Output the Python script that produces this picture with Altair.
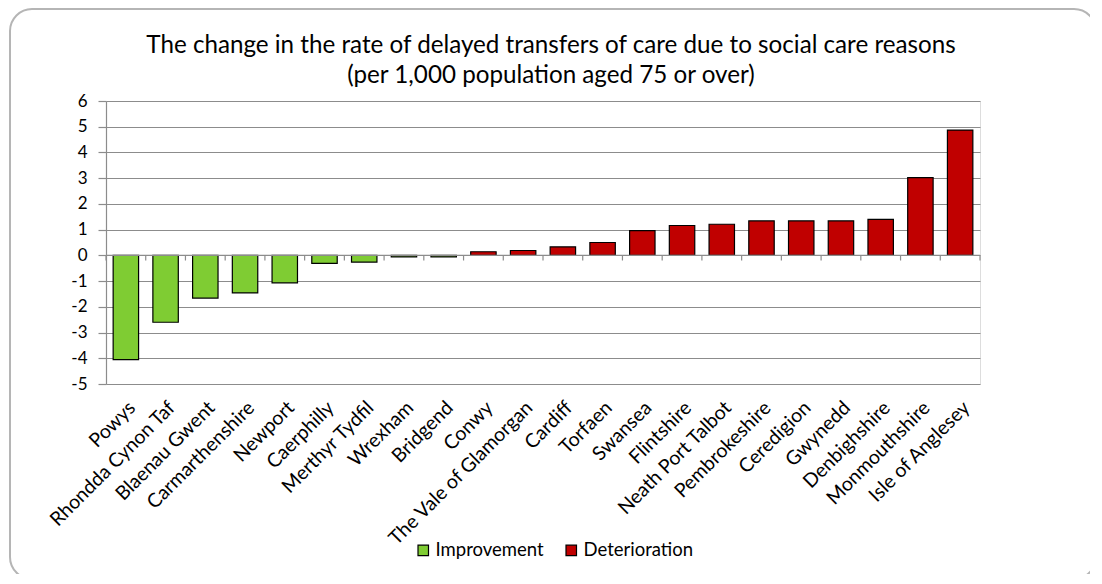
import altair as alt
import pandas as pd

areas = ["Powys", "Rhondda Cynon Taf", "Blaenau Gwent", "Carmarthenshire", "Newport",
         "Caerphilly", "Merthyr Tydfil", "Wrexham", "Bridgend", "Conwy",
         "The Vale of Glamorgan", "Cardiff", "Torfaen", "Swansea", "Flintshire",
         "Neath Port Talbot", "Pembrokeshire", "Ceredigion", "Gwynedd", "Denbighshire",
         "Monmouthshire", "Isle of Anglesey"]
changes = [-4.05, -2.6, -1.66, -1.46, -1.07, -0.31, -0.26, -0.06, -0.06, 0.14,
           0.19, 0.33, 0.5, 0.96, 1.16, 1.21, 1.34, 1.34, 1.34, 1.4, 3.02, 4.87]
status_labels = ["Improvement", "Deterioration"]
status_colors = ["#7FCC33", "#C00000"]
y_ticks = [-5, -4, -3, -2, -1, 0, 1, 2, 3, 4, 5, 6]
title_line1 = "The change in the rate of delayed transfers of care due to social care reasons"
title_line2 = "(per 1,000 population  aged 75 or over)"

df = pd.DataFrame({
    "area": areas,
    "change": changes,
    "status": [status_labels[0] if v < 0 else status_labels[1] for v in changes],
})
edges = pd.DataFrame({"area": areas + [areas[-1]],
                      "y0": [0] * (len(areas) + 1), "y1": [-0.2] * (len(areas) + 1)})

FONT = "Lato"
W, H = 874, 283
GRID = "#8c8c8c"

xscale = alt.Scale(domain=areas, paddingInner=0, paddingOuter=0)
yscale = alt.Scale(domain=[-5, 6], nice=False)

xaxis = alt.Axis(title=None, labelAngle=-45, ticks=False, domain=False,
                 labelFontSize=19.5, labelFont=FONT, labelColor="black",
                 labelPadding=14, labelAlign="right",
                 labelLimit=400, labelOverlap=False)
yaxis = alt.Axis(title=None, values=y_ticks, grid=True, gridColor=GRID,
                 gridWidth=1.2, domainColor=GRID, domainWidth=1.2,
                 tickColor=GRID, tickSize=8, tickWidth=1.2,
                 labelFontSize=17, labelFont=FONT, labelColor="black",
                 labelPadding=11, labelOverlap=False, labelFlush=False,
                 labelExpr="replace(format(datum.value, 'd'), '\u2212', '-')")

bars = alt.Chart(df).mark_bar(
    width=alt.RelativeBandSize(0.64), stroke="black", strokeWidth=1.2
).encode(
    x=alt.X("area:N", sort=areas, scale=xscale, axis=xaxis),
    y=alt.Y("change:Q", scale=yscale, axis=yaxis),
    color=alt.Color("status:N", scale=alt.Scale(domain=status_labels, range=status_colors),
                    legend=alt.Legend(title=None, orient="none", direction="horizontal",
                                      legendX=308, legendY=440, symbolType="square",
                                      symbolSize=110, symbolStrokeColor="black",
                                      symbolStrokeWidth=1.2, labelFontSize=18.5,
                                      labelFont=FONT, labelColor="black", labelOffset=3,
                                      columnPadding=18, symbolOpacity=1)),
)

zero = alt.Chart(pd.DataFrame({"y": [0]})).mark_rule(color=GRID, strokeWidth=1.2).encode(
    y=alt.Y("y:Q", scale=yscale, axis=yaxis), x=alt.value(0), x2=alt.value(W))

ticks_a = alt.Chart(edges.iloc[:-1]).mark_rule(color=GRID, strokeWidth=1.2).encode(
    x=alt.X("area:N", sort=areas, scale=xscale, bandPosition=0, axis=xaxis),
    y=alt.Y("y0:Q", scale=yscale, axis=yaxis), y2="y1:Q")
ticks_b = alt.Chart(edges.iloc[-1:]).mark_rule(color=GRID, strokeWidth=1.2).encode(
    x=alt.X("area:N", sort=areas, scale=xscale, bandPosition=1, axis=xaxis),
    y=alt.Y("y0:Q", scale=yscale, axis=yaxis), y2="y1:Q")

frame = alt.Chart(pd.DataFrame({"a": [0]})).mark_rect(
    fill="white", fillOpacity=0, stroke="#b5b5b5", strokeWidth=2, cornerRadius=22
).encode(x=alt.value(-96), x2=alt.value(990), y=alt.value(-92), y2=alt.value(478))

t1 = alt.Chart(pd.DataFrame({"t": [title_line1]})).mark_text(
    font=FONT, fontSize=24.2, color="black", align="center", baseline="alphabetic"
).encode(text="t:N", x=alt.value(W / 2 + 8), y=alt.value(-48))
t2 = alt.Chart(pd.DataFrame({"t": [title_line2]})).mark_text(
    font=FONT, fontSize=24.2, color="black", align="center", baseline="alphabetic"
).encode(text="t:N", x=alt.value(W / 2 + 8), y=alt.value(-18))

chart = alt.layer(frame, bars, zero, ticks_a, ticks_b, t1, t2).properties(
    width=W, height=H,
    autosize=alt.AutoSizeParams(type="none"),
    padding={"left": 98, "top": 93, "right": 110, "bottom": 190},
).configure_view(stroke=None).configure(background="white")

chart.save("out.html", embed_options={"renderer": "svg", "actions": False})
